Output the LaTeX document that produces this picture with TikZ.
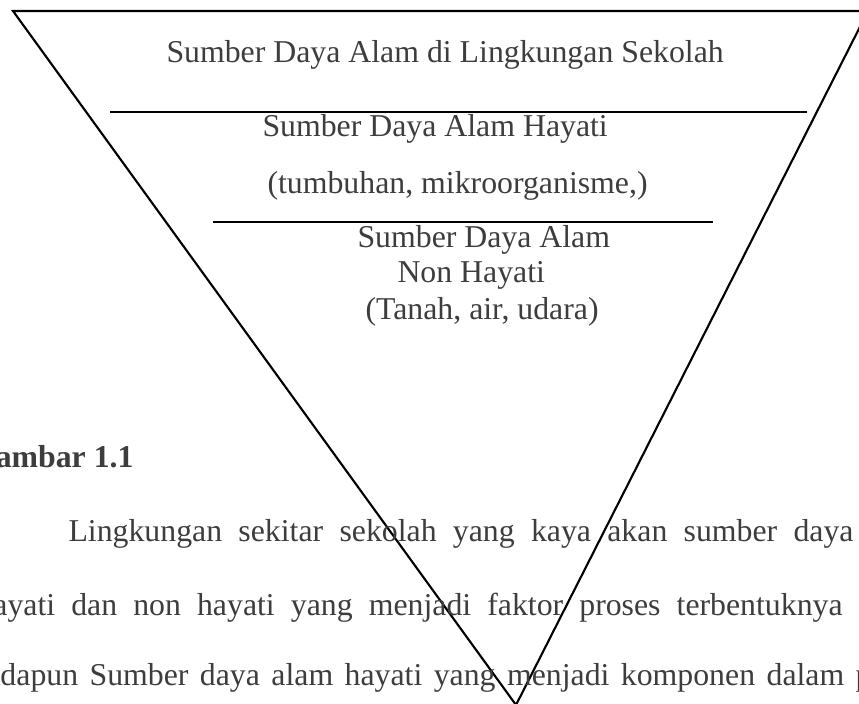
\documentclass[tikz,border=0pt]{standalone}
\usepackage{fontspec}
\setmainfont{Liberation Serif}
\newlength\unitpx
\setlength\unitpx{0.3774pt}
\definecolor{textgray}{gray}{0.24}
\tikzset{
  lbl/.style={anchor=base west, inner sep=0pt, text=textgray,
    font=\fontsize{12}{14}\selectfont},
  edge/.style={line width=0.8pt}
}
\begin{document}
\begin{tikzpicture}[x=\unitpx, y=-\unitpx]
    \useasboundingbox (0,0) rectangle (859,704);
    \clip (0,0) rectangle (859,704);

    % inverted triangle and its layers
    \draw[edge] (13,11) -- (868,11) -- (516,705) -- cycle;
    \draw[edge] (110,112) -- (807,112);
    \draw[edge] (213,222) -- (713,222);

    \node[lbl] (title) at (166,63) {Sumber Daya Alam di Lingkungan Sekolah};
    \node[lbl] (hayati) at (262,137) {Sumber Daya Alam Hayati};
    \node[lbl] (hayatiex) at (267,194) {(tumbuhan, mikroorganisme,)};
    \node[lbl] (nonhayA) at (357,248) {Sumber Daya Alam};
    \node[lbl] (nonhayB) at (397,283) {Non Hayati};
    \node[lbl] (nonhayC) at (365,320) {(Tanah, air, udara)};

    % caption and text below
    \node[lbl, font=\fontsize{12}{14}\selectfont\bfseries] (caption) at (-29.5,468) {Gambar 1.1};
    \node[lbl] (lineA) at (68,542)
        {\makebox[785\unitpx][s]{Lingkungan sekitar sekolah yang kaya akan sumber daya}};
    \node[lbl] (lineB) at (-23,615)
        {\makebox[890\unitpx][s]{hayati dan non hayati yang menjadi faktor proses terbentuknya t}};
    \node[lbl] (lineC) at (-23,685)
        {\makebox[894\unitpx][s]{Adapun Sumber daya alam hayati yang menjadi komponen dalam p}};
\end{tikzpicture}
\end{document}
